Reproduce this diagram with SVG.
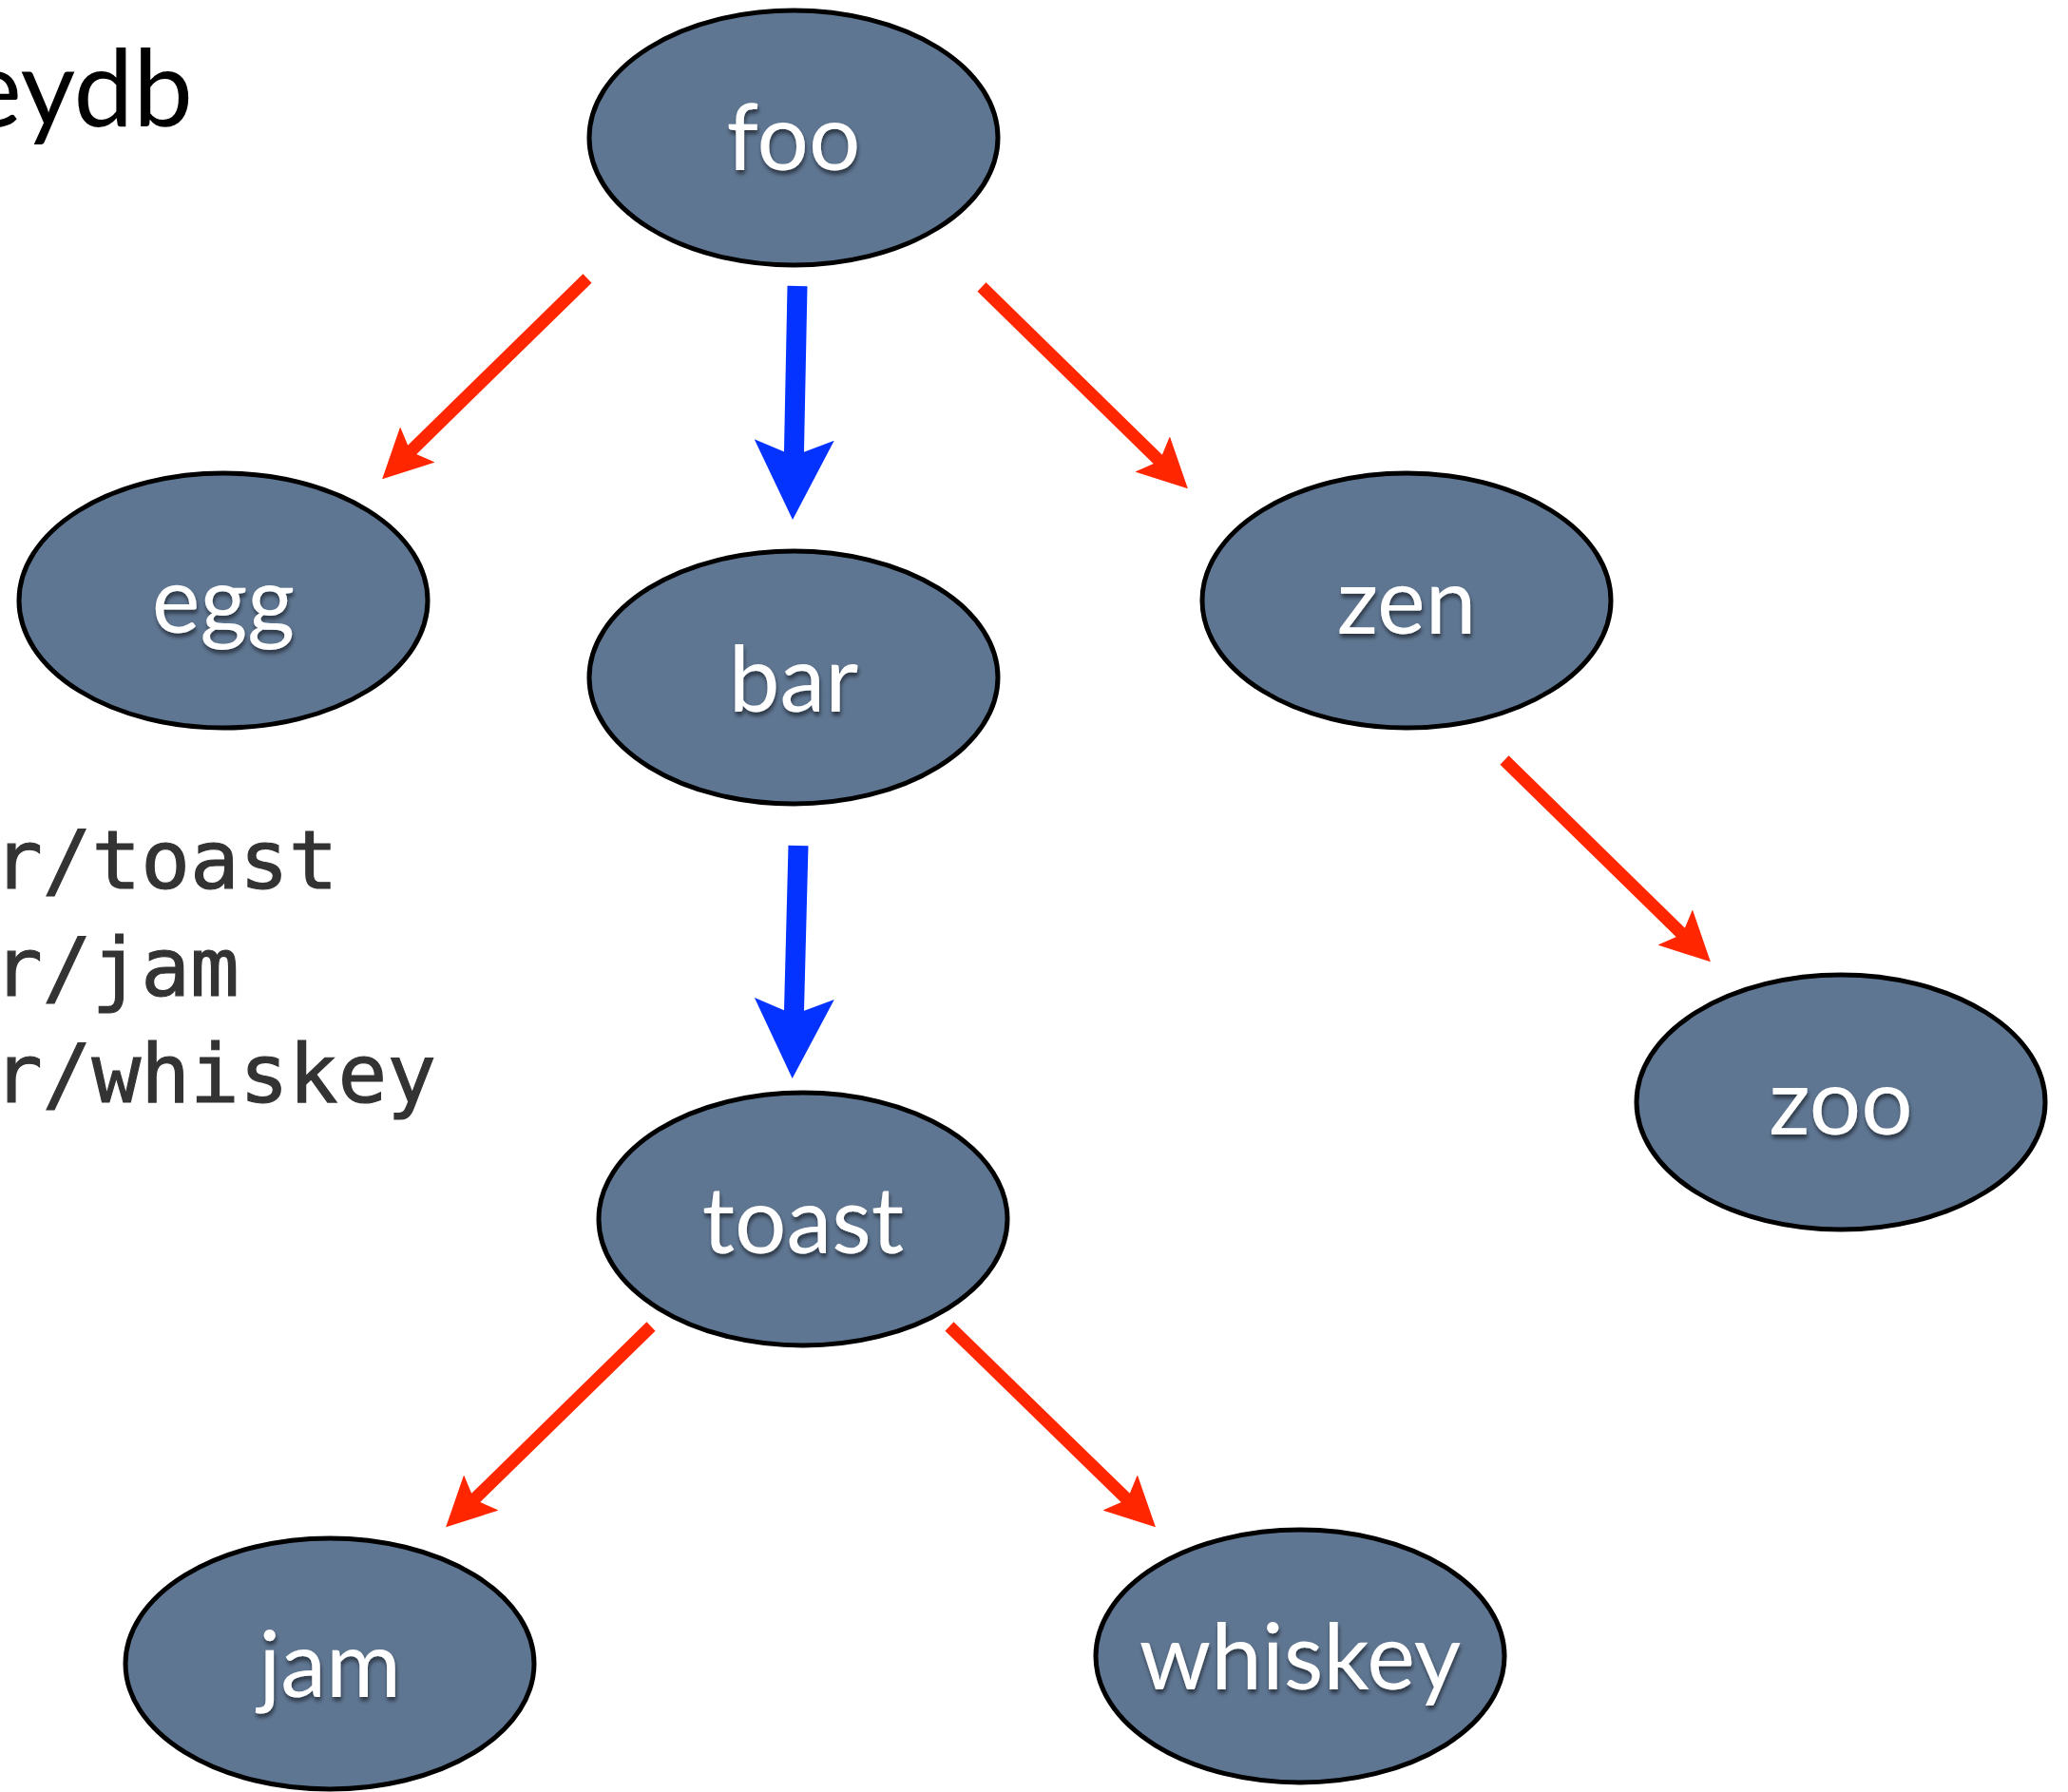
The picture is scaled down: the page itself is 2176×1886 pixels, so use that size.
<svg xmlns="http://www.w3.org/2000/svg" width="2176" height="1886" viewBox="0 0 2176 1886">
  <style>
    .node ellipse { fill: #5f7692; stroke: #000; stroke-width: 5; }
    .node text { font-family: Lato, "Open Sans", "Liberation Sans", sans-serif; font-size: 96px; fill: #ffffff; text-anchor: middle; filter: url(#shadow); }
    .red { stroke: #ff2600; stroke-width: 13; fill: none; marker-end: url(#headRed); }
    .blue { stroke: #0433ff; stroke-width: 21; fill: none; marker-end: url(#headBlue); }
    .title { font-family: Lato, "Open Sans", "Liberation Sans", sans-serif; font-size: 112px; fill: #000; text-anchor: end; }
    .mono { font-family: "DejaVu Sans Mono", "Liberation Mono", monospace; font-size: 86px; fill: #333333; stroke: #333333; stroke-width: 1.2; }
  </style>
  <defs>
    <filter id="shadow" x="-20%" y="-20%" width="140%" height="160%">
      <feDropShadow dx="1" dy="4" stdDeviation="2" flood-color="#000" flood-opacity="0.55"/>
    </filter>
    <marker id="headRed" viewBox="0 0 4 4" refX="1" refY="2" markerWidth="4" markerHeight="4" markerUnits="strokeWidth" orient="auto">
      <path d="M0,0 L4,2 L0,4 L0.8,2 Z" fill="#ff2600"/>
    </marker>
    <marker id="headBlue" viewBox="0 0 4 4" refX="1" refY="2" markerWidth="4" markerHeight="4" markerUnits="strokeWidth" orient="auto">
      <path d="M0,0 L4,2 L0,4 L0.8,2 Z" fill="#0433ff"/>
    </marker>
  </defs>
  <rect width="2176" height="1886" fill="#ffffff"/>

  <text class="title" x="203" y="133">eydb</text>
  <text class="mono" x="-7" y="935">r/toast</text>
  <text class="mono" x="-7" y="1048">r/jam</text>
  <text class="mono" x="-7" y="1160">r/whiskey</text>

  <g id="connectors">
    <path class="red" d="M618,293 L430,477"/>
    <path class="red" d="M1033,302 L1222,487"/>
    <path class="red" d="M1583,800 L1772,985"/>
    <path class="red" d="M685,1396 L497,1580"/>
    <path class="red" d="M999,1396 L1188,1580"/>
    <path class="blue" d="M839,301 L835.3,484"/>
    <path class="blue" d="M840,890 L835.3,1072"/>
  </g>

  <g id="foo" class="node"><ellipse cx="835" cy="145" rx="215" ry="134"/><text x="835" y="179">foo</text></g>
  <g id="egg" class="node"><ellipse cx="235" cy="632" rx="215" ry="134"/><text x="235" y="666">egg</text></g>
  <g id="bar" class="node"><ellipse cx="835" cy="713" rx="215" ry="133"/><text x="835" y="749">bar</text></g>
  <g id="zen" class="node"><ellipse cx="1480" cy="632" rx="215" ry="134"/><text x="1480" y="667">zen</text></g>
  <g id="zoo" class="node"><ellipse cx="1937" cy="1160" rx="215" ry="134"/><text x="1937" y="1194">zoo</text></g>
  <g id="toast" class="node"><ellipse cx="845" cy="1283" rx="215" ry="133"/><text x="845" y="1319">toast</text></g>
  <g id="jam" class="node"><ellipse cx="347" cy="1751" rx="215" ry="132"/><text x="347" y="1786">jam</text></g>
  <g id="whiskey" class="node"><ellipse cx="1368" cy="1743" rx="215" ry="133"/><text x="1368" y="1778">whiskey</text></g>
</svg>
